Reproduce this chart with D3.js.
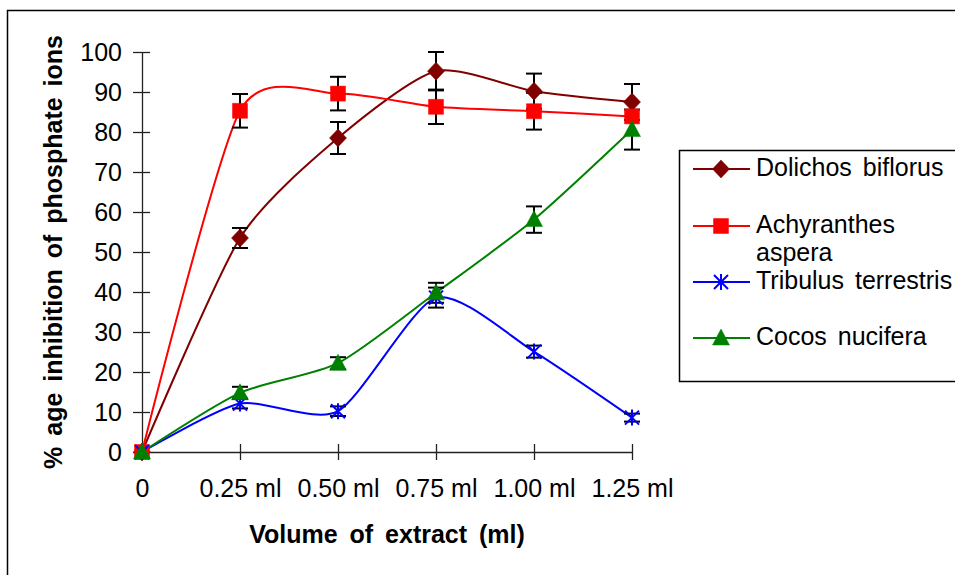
<!DOCTYPE html>
<html>
<head>
<meta charset="utf-8">
<script src="https://cdn.jsdelivr.net/npm/d3@7"></script>
<style>
  body { margin: 0; background: #fff; }
  text { font-family: Arial, "Liberation Sans", sans-serif; }
</style>
</head>
<body>
<div id="chart"></div>
<script>
let width = 955
let height = 575

// data
const volumes = ['0', '0.25 ml', '0.50 ml', '0.75 ml', '1.00 ml', '1.25 ml']
const yTicks = [0, 10, 20, 30, 40, 50, 60, 70, 80, 90, 100]

const dolichos = [0, 53.5, 78.5, 95.2, 90.2, 87.5]
const dolichosErr = [0, 2.5, 4, 4.8, 4.4, 4.5]

const achyranthes = [0, 85.3, 89.6, 86.3, 85.2, 83.9]
const achyranthesErr = [0, 4.2, 4.2, 4.3, 4.6, 0]

const tribulus = [0, 12.1, 10.2, 38.6, 25.1, 8.6]
const tribulusErr = [0, 1.2, 1.2, 2.5, 1.5, 1]

const cocos = [0, 14.8, 22.2, 39.8, 58.1, 80.6]
const cocosErr = [0, 1.5, 1.5, 2.5, 3.3, 5]

const seriesNames = ['Dolichos biflorus', 'Achyranthes aspera', 'Tribulus terrestris', 'Cocos nucifera']

let series = [
    {name: seriesNames[0], values: dolichos, err: dolichosErr, color: '#800000', marker: 'diamond'},
    {name: seriesNames[1], values: achyranthes, err: achyranthesErr, color: '#ff0000', marker: 'square'},
    {name: seriesNames[2], values: tribulus, err: tribulusErr, color: '#0000ff', marker: 'star'},
    {name: seriesNames[3], values: cocos, err: cocosErr, color: '#008000', marker: 'triangle'}
]

let svg = d3.select('#chart')
            .append('svg')
            .attr('width', width)
            .attr('height', height)

// outer chart border (runs off the right and bottom)
svg.append('rect')
    .attr('x', 7.5)
    .attr('y', 10.5)
    .attr('width', 1200)
    .attr('height', 1000)
    .attr('fill', 'none')
    .attr('stroke', '#000')
    .attr('stroke-width', 1.5)

let xScale = d3.scalePoint()
            .domain(volumes)
            .range([142, 632])

let yScale = d3.scaleLinear()
            .domain([0, 100])
            .range([452, 52])

// y axis
let yAxis = svg.append('g')
    .attr('transform', 'translate(142,0)')
    .call(d3.axisLeft(yScale).tickValues(yTicks).tickSize(9).tickSizeOuter(0).tickPadding(11))
yAxis.select('.domain').attr('stroke', '#222').attr('stroke-width', 1.3)
yAxis.selectAll('.tick line').attr('x1', 8).attr('stroke', '#222').attr('stroke-width', 1.3)
yAxis.selectAll('.tick text')
    .style('font-size', '25px')
    .attr('fill', '#000')
    .attr('font-family', 'Arial, "Liberation Sans", sans-serif')

// x axis
let xAxis = svg.append('g')
    .attr('transform', 'translate(0,452)')
    .call(d3.axisBottom(xScale).tickSize(8).tickSizeOuter(0).tickPadding(19))
xAxis.select('.domain').attr('stroke', '#222').attr('stroke-width', 1.3)
xAxis.selectAll('.tick line').attr('y1', -8).attr('stroke', '#222').attr('stroke-width', 1.3)
xAxis.selectAll('.tick text')
    .style('font-size', '25px')
    .attr('fill', '#000')
    .attr('font-family', 'Arial, "Liberation Sans", sans-serif')

// axis titles
svg.append('text')
    .attr('transform', 'translate(62,252) rotate(-90)')
    .attr('text-anchor', 'middle')
    .style('font-size', '25px')
    .style('font-weight', 'bold')
    .style('word-spacing', '4px')
    .text('% age inhibition of phosphate ions')

svg.append('text')
    .attr('x', 387)
    .attr('y', 543)
    .attr('text-anchor', 'middle')
    .style('font-size', '25px')
    .style('font-weight', 'bold')
    .style('word-spacing', '5px')
    .text('Volume of extract (ml)')

function markerPath(type) {
    if (type === 'diamond') return 'M0,-9L8.5,0L0,9L-8.5,0Z'
    if (type === 'square') return 'M-7.5,-7.5H7.5V7.5H-7.5Z'
    if (type === 'triangle') return 'M0,-9L8.5,7L-8.5,7Z'
    return 'M0,-8V8M-7,-7L7,7M-7,7L7,-7'
}

function drawMarker(g, type, color) {
    let p = g.append('path').attr('d', markerPath(type))
    if (type === 'star') {
        p.attr('fill', 'none').attr('stroke', color).attr('stroke-width', 2)
    } else {
        p.attr('fill', color).attr('stroke', color).attr('stroke-width', 0.5)
    }
}

// smoothed lines like the spreadsheet's
let line = d3.line()
    .x((d, i) => xScale(volumes[i]))
    .y(d => yScale(d))
    .curve(d3.curveCardinal.tension(0.3))

svg.selectAll('.series-line')
    .data(series)
    .enter()
    .append('path')
    .attr('class', 'series-line')
    .attr('d', d => line(d.values))
    .attr('fill', 'none')
    .attr('stroke', d => d.color)
    .attr('stroke-width', 2)

// error bars
series.forEach(s => {
    let eg = svg.append('g')
    s.values.forEach((v, i) => {
        if (!s.err[i]) return
        let x = xScale(volumes[i])
        let y1 = yScale(v + s.err[i])
        let y2 = yScale(v - s.err[i])
        eg.append('line').attr('x1', x).attr('x2', x).attr('y1', y1).attr('y2', y2)
        eg.append('line').attr('x1', x - 8).attr('x2', x + 8).attr('y1', y1).attr('y2', y1)
        eg.append('line').attr('x1', x - 8).attr('x2', x + 8).attr('y1', y2).attr('y2', y2)
    })
    eg.selectAll('line').attr('stroke', '#000').attr('stroke-width', 2)
})

// markers
series.forEach(s => {
    s.values.forEach((v, i) => {
        let g = svg.append('g')
            .attr('transform', 'translate(' + xScale(volumes[i]) + ',' + yScale(v) + ')')
        drawMarker(g, s.marker, s.color)
    })
})

// legend
let legend = svg.append('g')

legend.append('rect')
    .attr('x', 679.5)
    .attr('y', 150.5)
    .attr('width', 400)
    .attr('height', 231)
    .attr('fill', '#fff')
    .attr('stroke', '#000')
    .attr('stroke-width', 1.5)

let legendY = [169, 226, 282, 338]

series.forEach((s, i) => {
    let row = legend.append('g')
        .attr('transform', 'translate(0,' + legendY[i] + ')')
    row.append('line')
        .attr('x1', 693)
        .attr('x2', 750)
        .attr('y1', 0)
        .attr('y2', 0)
        .attr('stroke', s.color)
        .attr('stroke-width', 2)
    let m = row.append('g').attr('transform', 'translate(721,0)')
    drawMarker(m, s.marker, s.color)
})

// legend labels (Achyranthes wraps onto two lines)
let labelLines = [['Dolichos biflorus'], ['Achyranthes', 'aspera'], ['Tribulus terrestris'], ['Cocos nucifera']]

labelLines.forEach((lines, i) => {
    let t = legend.append('text')
        .attr('x', 756)
        .attr('y', legendY[i] + 7)
        .style('font-size', '25px')
        .style('word-spacing', '4px')
    lines.forEach((l, j) => {
        t.append('tspan')
            .attr('x', 756)
            .attr('dy', j === 0 ? 0 : 28)
            .text(l)
    })
})
</script>
</body>
</html>
